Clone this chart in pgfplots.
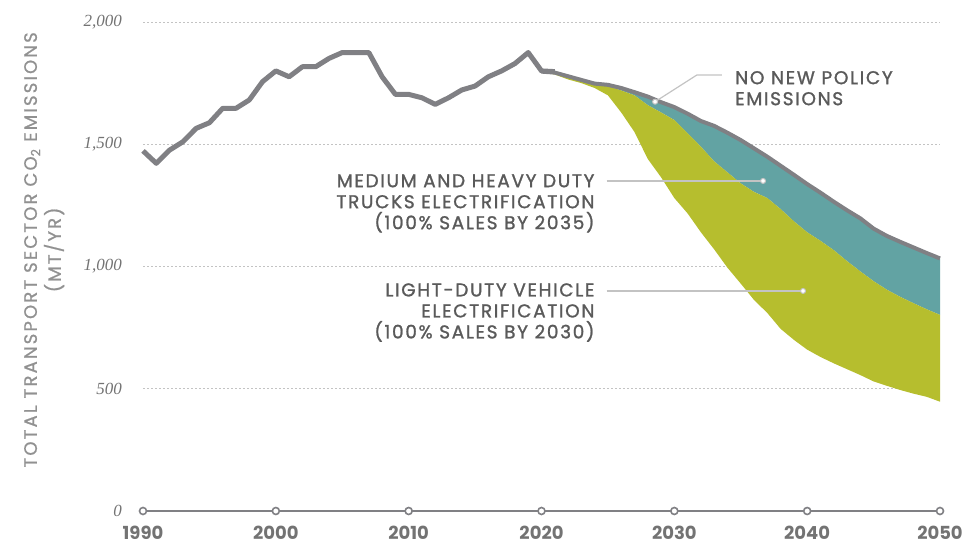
\documentclass[border=0pt]{standalone}
\usepackage{pgfplots}
\pgfplotsset{compat=1.18}
\usepgfplotslibrary{fillbetween}
\usepackage{fontspec}
\setmainfont{Liberation Serif}
\newfontfamily\gsans{Poppins}[LetterSpace=9, FakeBold=1.3]
\newfontfamily\gsanslab{Poppins}[LetterSpace=12, FakeBold=1.0]
\newfontfamily\gsansx{Poppins}
\definecolor{lgray}{RGB}{128,128,132}
\definecolor{tealc}{RGB}{98,163,163}
\definecolor{yelc}{RGB}{182,190,46}
\definecolor{txt}{RGB}{90,90,90}
\definecolor{ylab}{RGB}{145,145,145}
\definecolor{tickc}{RGB}{115,115,115}
\definecolor{gridc}{RGB}{195,195,195}
\definecolor{leader}{RGB}{195,195,195}
\begin{document}
\begin{tikzpicture}
\begin{axis}[
  scale only axis, width=797pt, height=489pt,
  xmin=1990, xmax=2050, ymin=0, ymax=2000,
  clip=false,
  axis line style={draw=none},
  major tick length=0pt,
  ytick={0,500,1000,1500,2000},
  yticklabels={0,500,{1,000},{1,500},{2,000}},
  xtick={1990,2000,2010,2020,2030,2040,2050},
  xticklabels={1990,2000,2010,2020,2030,2040,2050},
  yticklabel style={font=\fontsize{17}{20}\selectfont\itshape, text=tickc, inner sep=0pt, anchor=east, xshift=-21pt},
  xticklabel style={font=\fontsize{18}{20}\selectfont\gsansx\bfseries, text=tickc, inner sep=0pt, anchor=north, yshift=-15pt},
  /pgf/number format/assume math mode=true,
  ymajorgrids,
  grid style={gridc, line width=0.9pt, dash pattern=on 2pt off 2pt},
]
% projections
\addplot[name path=np, draw=none] coordinates {
(2020,1797)(2021,1793)(2022,1778)(2023,1763)(2024,1748)(2025,1743)(2026,1730)(2027,1713)(2028,1695)(2029,1672)(2030,1652)(2031,1625)(2032,1595)(2033,1575)(2034,1547)(2035,1517)(2036,1483)(2037,1449)(2038,1412)(2039,1375)(2040,1337)(2041,1302)(2042,1265)(2043,1230)(2044,1197)(2045,1155)(2046,1125)(2047,1101)(2048,1078)(2049,1055)(2050,1033)};
\addplot[name path=mhd, draw=none] coordinates {
(2020,1797)(2021,1792)(2022,1776)(2023,1760)(2024,1745)(2025,1738)(2026,1720)(2027,1700)(2028,1660)(2029,1630)(2030,1599)(2031,1545)(2032,1490)(2033,1430)(2034,1385)(2035,1340)(2036,1305)(2037,1280)(2038,1235)(2039,1185)(2040,1140)(2041,1105)(2042,1067)(2043,1022)(2044,980)(2045,940)(2046,905)(2047,876)(2048,850)(2049,825)(2050,802)};
\addplot[name path=ldv, draw=none] coordinates {
(2020,1797)(2021,1785)(2022,1765)(2023,1750)(2024,1730)(2025,1700)(2026,1630)(2027,1550)(2028,1440)(2029,1365)(2030,1280)(2031,1217)(2032,1140)(2033,1070)(2034,995)(2035,930)(2036,863)(2037,810)(2038,745)(2039,700)(2040,660)(2041,630)(2042,604)(2043,580)(2044,556)(2045,530)(2046,512)(2047,495)(2048,480)(2049,467)(2050,447)};
\addplot[tealc, draw=none] fill between[of=np and mhd];
\addplot[yelc, draw=none] fill between[of=mhd and ldv];
\addplot[lgray, line width=4pt, line join=round] coordinates {
(2020,1797)(2021,1793)(2022,1778)(2023,1763)(2024,1748)(2025,1743)(2026,1730)(2027,1713)(2028,1695)(2029,1672)(2030,1652)(2031,1625)(2032,1595)(2033,1575)(2034,1547)(2035,1517)(2036,1483)(2037,1449)(2038,1412)(2039,1375)(2040,1337)(2041,1302)(2042,1265)(2043,1230)(2044,1197)(2045,1155)(2046,1125)(2047,1101)(2048,1078)(2049,1055)(2050,1033)};
% historical
\addplot[lgray, line width=5pt, line join=round] coordinates {
(1990,1473)(1991,1422)(1992,1476)(1993,1510)(1994,1565)(1995,1588)(1996,1647)(1997,1647)(1998,1681)(1999,1756)(2000,1800)(2001,1776)(2002,1817)(2003,1817)(2004,1851)(2005,1875)(2006,1875)(2007,1875)(2008,1776)(2009,1704)(2010,1704)(2011,1690)(2012,1663)(2013,1690)(2014,1722)(2015,1738)(2016,1776)(2017,1800)(2018,1830)(2019,1875)(2020,1800)(2021,1797)};
% x axis line with circles
\addplot[lgray, line width=2.2pt, mark=*, mark size=3.5pt, mark options={fill=white, draw=lgray, line width=1.6pt}] coordinates {
(1990,0)(2000,0)(2010,0)(2020,0)(2030,0)(2040,0)(2050,0)};
% leaders
\addplot[leader, line width=1.2pt, mark=*, mark indices={2}, mark size=2.5pt, mark options={fill=white, draw=leader, line width=1pt}] coordinates {(2024.9,1350)(2036.68,1350)};
\addplot[leader, line width=1.2pt, mark=*, mark indices={2}, mark size=2.5pt, mark options={fill=white, draw=leader, line width=1pt}] coordinates {(2024.9,900)(2039.69,900)};
\addplot[leader, line width=1.2pt, mark=*, mark indices={1}, mark size=2.5pt, mark options={fill=white, draw=leader, line width=1pt}] coordinates {(2028.55,1674)(2031.69,1783)(2033.57,1783)};
% annotations
\node[anchor=north west, align=left, text=txt, inner sep=0pt, font=\gsans\fontsize{18.5}{21}\selectfont] at (axis cs:2034.57,1800) {NO NEW POLICY\\EMISSIONS};
\node[anchor=north east, align=right, text=txt, inner sep=0pt, font=\gsans\fontsize{18.5}{21}\selectfont] at (axis cs:2024.0,1378) {MEDIUM AND HEAVY DUTY\\TRUCKS ELECTRIFICATION\\(100\% SALES BY 2035)};
\node[anchor=north east, align=right, text=txt, inner sep=0pt, font=\gsans\fontsize{18.5}{21}\selectfont] at (axis cs:2024.0,932) {LIGHT-DUTY VEHICLE\\ELECTRIFICATION\\(100\% SALES BY 2030)};
\node[rotate=90, align=center, text=ylab, inner sep=0pt, font=\gsanslab\fontsize{18}{24}\selectfont] at (rel axis cs:-0.124,0.534) {TOTAL TRANSPORT SECTOR CO\textsubscript{2} EMISSIONS\\(MT/YR)};
\end{axis}
\pgfresetboundingbox
\path ([xshift=-143pt,yshift=-35pt]current axis.south west) rectangle ([xshift=24pt,yshift=22pt]current axis.north east);
\end{tikzpicture}
\end{document}
